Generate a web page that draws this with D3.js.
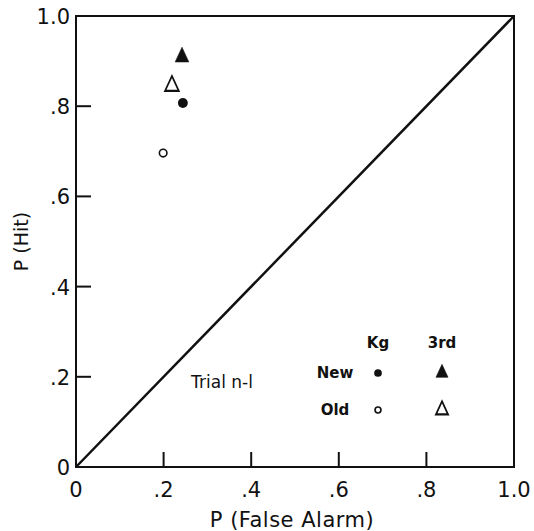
<!DOCTYPE html>
<html>
<head>
<meta charset="utf-8">
<script src="https://d3js.org/d3.v7.min.js"></script>
<style>
  body { margin: 0; background: #fff; }
  text { font-family: "DejaVu Sans", sans-serif; fill: #111; }
</style>
</head>
<body>
<script>
//chart data
var conditions = ["New Kg", "Old Kg", "New 3rd", "Old 3rd"];
var pFalseAlarm = [0.244, 0.199, 0.242, 0.219];
var pHit = [0.807, 0.696, 0.909, 0.845];
var xTickValues = [0, 0.2, 0.4, 0.6, 0.8, 1.0];
var xTickLabels = ["0", ".2", ".4", ".6", ".8", "1.0"];
var yTickValues = [0, 0.2, 0.4, 0.6, 0.8, 1.0];
var yTickLabels = ["0", ".2", ".4", ".6", ".8", "1.0"];
var legendRows = ["New", "Old"];
var legendCols = ["Kg", "3rd"];

window.onload = drawChart();

function drawChart(){
    var width = 534,
        height = 531;
    var left = 76, right = 514, top = 16, bottom = 467;

    var svg = d3.select("body")
        .append("svg")
        .attr("width", width)
        .attr("height", height);

    var x = d3.scaleLinear().domain([0, 1]).range([left, right]);
    var y = d3.scaleLinear().domain([0, 1]).range([bottom, top]);

    //frame
    svg.append("rect")
        .attr("x", x(0)).attr("y", y(1))
        .attr("width", x(1) - x(0)).attr("height", y(0) - y(1))
        .attr("fill", "none").attr("stroke", "#111").attr("stroke-width", 2);

    //inward ticks on bottom and left
    var tickLen = 15;
    svg.selectAll(".xtick")
        .data(xTickValues.slice(1, -1))
        .enter().append("line")
        .attr("x1", function(d){ return x(d); }).attr("x2", function(d){ return x(d); })
        .attr("y1", y(0)).attr("y2", y(0) - tickLen)
        .attr("stroke", "#111").attr("stroke-width", 2);
    svg.selectAll(".ytick")
        .data(yTickValues.slice(1, -1))
        .enter().append("line")
        .attr("y1", function(d){ return y(d); }).attr("y2", function(d){ return y(d); })
        .attr("x1", x(0)).attr("x2", x(0) + tickLen)
        .attr("stroke", "#111").attr("stroke-width", 2);

    //tick labels
    svg.selectAll(".xlabel")
        .data(xTickValues)
        .enter().append("text")
        .attr("x", function(d){ return x(d); })
        .attr("y", y(0) + 30)
        .attr("text-anchor", "middle")
        .attr("font-size", 21)
        .text(function(d, i){ return xTickLabels[i]; });
    svg.selectAll(".ylabel")
        .data(yTickValues)
        .enter().append("text")
        .attr("x", x(0) - 6)
        .attr("y", function(d){ return y(d) + 8; })
        .attr("text-anchor", "end")
        .attr("font-size", 21)
        .text(function(d, i){ return yTickLabels[i]; });

    //axis titles
    svg.append("text")
        .attr("x", 292)
        .attr("y", 527)
        .attr("text-anchor", "middle")
        .attr("font-size", 21)
        .attr("letter-spacing", 0.5)
        .text("P (False  Alarm)");
    svg.append("text")
        .attr("transform", "translate(28," + y(0.5) + ") rotate(-90)")
        .attr("text-anchor", "middle")
        .attr("font-size", 19)
        .text("P (Hit)");

    //chance diagonal
    svg.append("line")
        .attr("x1", x(0)).attr("y1", y(0))
        .attr("x2", x(1)).attr("y2", y(1))
        .attr("stroke", "#111").attr("stroke-width", 2.5);

    //marker drawing helper
    function marker(g, i, cx, cy, s){
        var filled = i % 2 == 0,
            tri = i >= 2;
        if (tri){
            g.append("path")
                .attr("d", d3.symbol().type(d3.symbolTriangle).size(s * 9)())
                .attr("transform", "translate(" + cx + "," + cy + ") scale(1,1.25)")
                .attr("fill", filled ? "#111" : "none")
                .attr("stroke", "#111").attr("stroke-width", filled ? 0.5 : 1.7);
        } else {
            g.append("circle")
                .attr("cx", cx).attr("cy", cy)
                .attr("r", filled ? s * 0.55 : s * 0.42)
                .attr("fill", filled ? "#111" : "none")
                .attr("stroke", "#111").attr("stroke-width", filled ? 0 : 1.6);
        }
    }

    //data points
    var pts = svg.append("g");
    conditions.forEach(function(c, i){
        marker(pts, i, x(pFalseAlarm[i]), y(pHit[i]), 9);
    });

    //legend
    var lg = svg.append("g").attr("font-weight", "bold").attr("font-size", 15)
        .attr("font-family", "Liberation Sans, sans-serif");
    var colX = [378, 442], rowY = [373, 410];
    legendCols.forEach(function(c, j){
        lg.append("text").attr("x", colX[j]).attr("y", 343 + 5)
            .attr("text-anchor", "middle").text(c);
    });
    legendRows.forEach(function(r, k){
        lg.append("text").attr("x", 335).attr("y", rowY[k] + 5)
            .attr("text-anchor", "middle").text(r);
        legendCols.forEach(function(c, j){
            marker(lg, j * 2 + k, colX[j], rowY[k], 7);
        });
    });

    svg.append("text")
        .attr("x", 222).attr("y", 388)
        .attr("text-anchor", "middle")
        .attr("font-size", 17)
        .text("Trial n-l");
};
</script>
</body>
</html>
